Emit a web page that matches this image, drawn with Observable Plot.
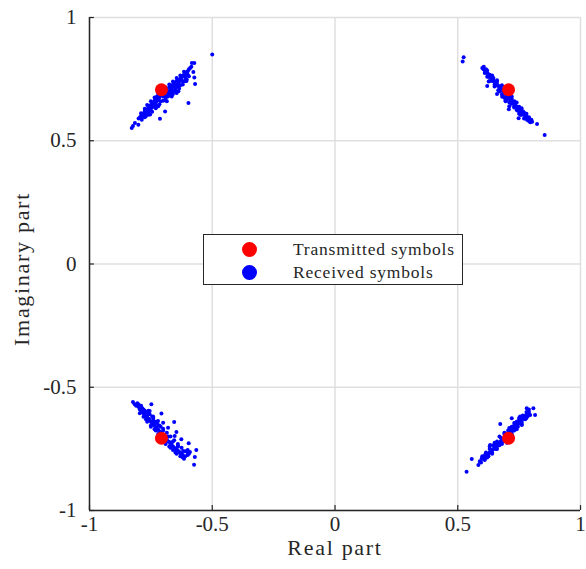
<!DOCTYPE html>
<html>
<head>
<meta charset="utf-8">
<script src="https://cdn.jsdelivr.net/npm/d3@7"></script>
<script src="https://cdn.jsdelivr.net/npm/@observablehq/plot@0.6"></script>
<style>
  html, body { margin: 0; padding: 0; background: #fff; }
  #wrap { position: relative; width: 586px; height: 569px; font-family: "Liberation Serif", serif; }
  #legend { position: absolute; left: 203px; top: 234px; width: 258px; height: 49px;
    border: 1.3px solid #262626; background: #fff; font-size: 17.5px; letter-spacing: 0.8px; color: #262626; }
  .row { position: absolute; left: 0; height: 22px; }
  .sw { position: absolute; left: 38px; top: 4px; width: 15px; height: 15px; border-radius: 50%; }
  .lt { position: absolute; left: 89px; top: 0; line-height: 22px; white-space: nowrap; }
</style>
</head>
<body>
<div id="wrap"></div>
<script>
const xTicks = [-1, -0.5, 0, 0.5, 1];
const yTicks = [-1, -0.5, 0, 0.5, 1];
const seriesNames = ["Transmitted symbols", "Received symbols"];
const seriesColors = ["#ff0000", "#0000ff"];

const txRe = [-0.707, 0.707, -0.707, 0.707];
const txIm = [0.707, 0.707, -0.707, -0.707];

const rxTopLeft = [
  [-0.50,0.85],[-0.573,0.815],[-0.583,0.815],[-0.577,0.779],[-0.573,0.757],[-0.604,0.748],[-0.570,0.730],
  [-0.638,0.701],[-0.597,0.653],[-0.692,0.619],[-0.713,0.589],[-0.794,0.595],[-0.801,0.565],[-0.828,0.552],
  [-0.823,0.560],[-0.720,0.640],[-0.774,0.613],[-0.753,0.606],[-0.815,0.572],[-0.787,0.585],[-0.760,0.619],
  [-0.685,0.660],[-0.665,0.680],[-0.645,0.694],[-0.638,0.721],[-0.611,0.741],
  [-0.80,0.59],[-0.79,0.60],[-0.785,0.607],[-0.78,0.61],[-0.775,0.62],[-0.77,0.615],[-0.765,0.628],
  [-0.76,0.63],[-0.755,0.64],[-0.75,0.645],[-0.748,0.635],[-0.745,0.655],[-0.74,0.65],[-0.735,0.662],
  [-0.73,0.67],[-0.728,0.66],[-0.725,0.68],[-0.72,0.675],[-0.715,0.69],[-0.71,0.685],[-0.705,0.695],
  [-0.70,0.70],[-0.695,0.69],[-0.69,0.705],[-0.685,0.71],[-0.68,0.70],[-0.675,0.718],[-0.67,0.722],
  [-0.665,0.715],[-0.66,0.728],[-0.655,0.735],[-0.65,0.73],[-0.645,0.742],[-0.64,0.745],[-0.635,0.738],
  [-0.63,0.752],[-0.625,0.758],[-0.62,0.762],[-0.615,0.768],[-0.61,0.77],[-0.605,0.778],[-0.60,0.782],
  [-0.595,0.79],[-0.59,0.795],[-0.585,0.80],[-0.72,0.665],[-0.74,0.638],[-0.76,0.617],[-0.70,0.68],
  [-0.68,0.69],[-0.66,0.705],[-0.64,0.725],[-0.62,0.74],[-0.65,0.715],[-0.69,0.67],[-0.73,0.645],
  [-0.67,0.70],[-0.71,0.66],[-0.75,0.625],[-0.78,0.598],[-0.77,0.60],[-0.63,0.725],[-0.61,0.745],
  [-0.775,0.595],[-0.76,0.605],[-0.745,0.618],[-0.73,0.632],[-0.715,0.648],[-0.70,0.662],[-0.69,0.678],
  [-0.675,0.69],[-0.66,0.69],[-0.65,0.705],[-0.635,0.712],[-0.62,0.728],[-0.605,0.742],[-0.595,0.762],
  [-0.60,0.768],[-0.61,0.758],[-0.625,0.745],[-0.64,0.732],[-0.655,0.72],[-0.67,0.708],[-0.685,0.695],
  [-0.70,0.688],[-0.715,0.675],[-0.73,0.655],[-0.745,0.64],[-0.76,0.64],[-0.775,0.63],[-0.79,0.612],
  [-0.735,0.675],[-0.72,0.69],[-0.705,0.705],[-0.69,0.715],[-0.675,0.728],[-0.66,0.74],[-0.645,0.755],
  [-0.63,0.765],[-0.615,0.78],[-0.75,0.66],[-0.765,0.645],[-0.68,0.68],[-0.665,0.695],[-0.65,0.70]
];

const rxTopRight = [
  [0.524,0.839],[0.520,0.821],[0.854,0.523],[0.823,0.568],[0.803,0.577],[0.783,0.584],[0.748,0.591],
  [0.708,0.628],[0.620,0.722],[0.626,0.740],[0.606,0.800],[0.613,0.787],[0.681,0.679],[0.694,0.665],
  [0.60,0.795],[0.605,0.79],[0.61,0.785],[0.615,0.778],[0.62,0.775],[0.625,0.77],[0.63,0.76],
  [0.635,0.758],[0.64,0.75],[0.645,0.745],[0.65,0.74],[0.655,0.735],[0.66,0.728],[0.665,0.722],
  [0.67,0.72],[0.675,0.712],[0.68,0.708],[0.685,0.70],[0.69,0.695],[0.695,0.69],[0.70,0.685],
  [0.705,0.678],[0.71,0.672],[0.715,0.668],[0.72,0.66],[0.725,0.655],[0.73,0.65],[0.735,0.645],
  [0.74,0.638],[0.745,0.632],[0.75,0.628],[0.755,0.62],[0.76,0.615],[0.765,0.61],[0.77,0.605],
  [0.775,0.598],[0.78,0.592],[0.785,0.588],[0.79,0.58],[0.66,0.745],[0.64,0.765],[0.68,0.725],
  [0.70,0.705],[0.72,0.68],[0.74,0.655],[0.76,0.632],[0.78,0.61],[0.69,0.675],[0.71,0.655],
  [0.73,0.635],[0.75,0.61],[0.67,0.70],[0.65,0.72],[0.63,0.742],[0.77,0.59],[0.62,0.76],
  [0.66,0.69],[0.71,0.64],[0.695,0.66],
  [0.61,0.775],[0.625,0.76],[0.64,0.742],[0.655,0.725],[0.67,0.71],[0.685,0.69],[0.70,0.675],
  [0.715,0.66],[0.73,0.64],[0.745,0.622],[0.76,0.605],[0.775,0.59],[0.79,0.595],[0.78,0.60],
  [0.765,0.62],[0.75,0.638],[0.735,0.655],[0.72,0.67],[0.705,0.688],[0.69,0.705],[0.675,0.72],
  [0.66,0.738],[0.645,0.755],[0.63,0.768],[0.615,0.79],[0.62,0.785],[0.72,0.65],[0.70,0.665],
  [0.68,0.688],[0.74,0.625],[0.755,0.605],[0.77,0.615],[0.79,0.59],[0.80,0.585],[0.795,0.575],
  [0.665,0.705],[0.65,0.728],[0.71,0.68],[0.73,0.66]
];

const rxBottomLeft = [
  [-0.823,-0.560],[-0.816,-0.569],[-0.782,-0.592],[-0.748,-0.569],[-0.755,-0.596],[-0.707,-0.606],
  [-0.741,-0.619],[-0.721,-0.637],[-0.700,-0.644],[-0.655,-0.641],[-0.680,-0.664],[-0.646,-0.682],
  [-0.653,-0.698],[-0.626,-0.711],[-0.596,-0.727],[-0.565,-0.755],[-0.591,-0.763],[-0.571,-0.783],
  [-0.574,-0.814],[-0.619,-0.759],[-0.639,-0.738],[-0.666,-0.725],
  [-0.81,-0.575],[-0.80,-0.58],[-0.795,-0.59],[-0.79,-0.595],[-0.785,-0.60],[-0.78,-0.605],[-0.775,-0.612],
  [-0.77,-0.618],[-0.765,-0.622],[-0.76,-0.628],[-0.755,-0.632],[-0.75,-0.64],[-0.745,-0.645],[-0.74,-0.65],
  [-0.735,-0.655],[-0.73,-0.662],[-0.725,-0.668],[-0.72,-0.672],[-0.715,-0.68],[-0.71,-0.685],[-0.705,-0.69],
  [-0.70,-0.698],[-0.695,-0.70],[-0.69,-0.708],[-0.685,-0.712],[-0.68,-0.72],[-0.675,-0.722],[-0.67,-0.73],
  [-0.665,-0.735],[-0.66,-0.74],[-0.655,-0.745],[-0.65,-0.75],[-0.645,-0.752],[-0.64,-0.758],[-0.635,-0.762],
  [-0.63,-0.768],[-0.625,-0.77],[-0.62,-0.775],[-0.61,-0.78],[-0.60,-0.765],[-0.78,-0.59],[-0.76,-0.61],
  [-0.74,-0.635],[-0.72,-0.655],[-0.70,-0.675],[-0.68,-0.70],[-0.66,-0.72],[-0.64,-0.74],[-0.77,-0.63],
  [-0.75,-0.655],[-0.73,-0.675],[-0.71,-0.695],[-0.69,-0.72],[-0.67,-0.745],[-0.65,-0.765],[-0.62,-0.785],
  [-0.60,-0.775],[-0.595,-0.77],
  [-0.80,-0.57],[-0.79,-0.58],[-0.775,-0.595],[-0.76,-0.605],[-0.745,-0.62],[-0.73,-0.64],[-0.715,-0.655],
  [-0.70,-0.668],[-0.685,-0.685],[-0.67,-0.70],[-0.655,-0.715],[-0.64,-0.73],[-0.625,-0.745],[-0.61,-0.76],
  [-0.60,-0.755],[-0.615,-0.79],[-0.63,-0.78],[-0.645,-0.77],[-0.66,-0.755],[-0.675,-0.74],[-0.69,-0.73],
  [-0.705,-0.705],[-0.72,-0.69],[-0.735,-0.67],[-0.75,-0.66],[-0.765,-0.64],[-0.78,-0.62],[-0.795,-0.605],
  [-0.785,-0.585],[-0.77,-0.60],[-0.755,-0.61],[-0.74,-0.625],[-0.725,-0.645],[-0.71,-0.66],[-0.79,-0.575],
  [-0.805,-0.565],[-0.76,-0.595]
];

const rxBottomRight = [
  [0.536,-0.843],[0.557,-0.791],[0.584,-0.815],[0.591,-0.802],[0.598,-0.788],[0.611,-0.775],[0.632,-0.734],
  [0.673,-0.649],[0.706,-0.687],[0.720,-0.626],[0.754,-0.619],[0.781,-0.585],[0.808,-0.585],[0.795,-0.613],
  [0.815,-0.613],[0.761,-0.653],[0.740,-0.640],
  [0.59,-0.80],[0.60,-0.79],[0.605,-0.79],[0.61,-0.785],[0.615,-0.775],[0.62,-0.772],[0.625,-0.77],
  [0.63,-0.765],[0.635,-0.758],[0.64,-0.755],[0.645,-0.75],[0.65,-0.745],[0.655,-0.74],[0.66,-0.735],
  [0.665,-0.73],[0.67,-0.725],[0.675,-0.72],[0.68,-0.715],[0.685,-0.712],[0.69,-0.705],[0.695,-0.70],
  [0.70,-0.695],[0.705,-0.69],[0.71,-0.685],[0.715,-0.68],[0.72,-0.675],[0.725,-0.67],[0.73,-0.665],
  [0.735,-0.66],[0.74,-0.655],[0.745,-0.65],[0.75,-0.645],[0.755,-0.638],[0.76,-0.635],[0.765,-0.628],
  [0.77,-0.622],[0.775,-0.618],[0.78,-0.61],[0.785,-0.605],[0.79,-0.60],[0.64,-0.77],[0.66,-0.75],
  [0.68,-0.73],[0.70,-0.71],[0.72,-0.69],[0.74,-0.67],[0.76,-0.65],[0.78,-0.625],[0.67,-0.70],
  [0.69,-0.685],[0.71,-0.665],[0.73,-0.645],[0.75,-0.625],[0.65,-0.725],[0.63,-0.74],[0.62,-0.785],
  [0.61,-0.795],[0.70,-0.725],
  [0.60,-0.78],[0.615,-0.765],[0.63,-0.75],[0.645,-0.735],[0.66,-0.72],[0.675,-0.705],[0.69,-0.69],
  [0.705,-0.675],[0.72,-0.66],[0.735,-0.645],[0.75,-0.632],[0.765,-0.615],[0.78,-0.60],[0.79,-0.59],
  [0.775,-0.63],[0.76,-0.645],[0.745,-0.66],[0.73,-0.675],[0.715,-0.69],[0.70,-0.705],[0.685,-0.72],
  [0.67,-0.735],[0.655,-0.75],[0.64,-0.765],[0.625,-0.78],[0.61,-0.79],[0.595,-0.805],[0.66,-0.74],
  [0.68,-0.722],[0.72,-0.68],[0.74,-0.662],[0.76,-0.64],[0.785,-0.618],[0.655,-0.73],[0.69,-0.71],
  [0.73,-0.655],[0.75,-0.64]
];

const received = [...rxTopLeft, ...rxTopRight, ...rxBottomLeft, ...rxBottomRight].map(([re, im]) => ({re, im}));
const transmitted = txRe.map((re, i) => ({re, im: txIm[i]}));

const axisColor = "#262626";
const gridColor = "#dfdfdf";
const fmt = d => String(d);

const chart = Plot.plot({
  width: 586,
  height: 569,
  marginLeft: 89,
  marginRight: 6,
  marginTop: 17,
  marginBottom: 59,
  style: { fontFamily: "Liberation Serif, serif", background: "#fff", color: axisColor },
  x: { domain: [-1, 1] },
  y: { domain: [-1, 1] },
  marks: [
    Plot.gridX(xTicks, { stroke: gridColor, strokeOpacity: 1, strokeWidth: 1.5 }),
    Plot.gridY(yTicks, { stroke: gridColor, strokeOpacity: 1, strokeWidth: 1.5 }),
    Plot.ruleX(xTicks, { x: d => d, y1: -1, y2: -0.98, stroke: axisColor, strokeWidth: 1.2 }),
    Plot.ruleY(yTicks, { y: d => d, x1: -1, x2: -0.98, stroke: axisColor, strokeWidth: 1.2 }),
    Plot.ruleX([-1], { stroke: axisColor, strokeWidth: 1.5 }),
    Plot.ruleY([-1], { stroke: axisColor, strokeWidth: 1.5 }),
    Plot.axisX(xTicks, { tickSize: 0, tickPadding: 6, tickFormat: fmt, fontSize: 21, fill: axisColor, label: null }),
    Plot.axisY(yTicks, { tickSize: 0, tickPadding: 13, tickFormat: fmt, fontSize: 21, fill: axisColor, label: null }),
    Plot.text(["Real part"], { frameAnchor: "bottom", textAnchor: "middle", dy: 44, fontSize: 22, fill: axisColor, className: "axis-title" }),
    Plot.text(["Imaginary part"], { frameAnchor: "left", textAnchor: "middle", dx: -68, dy: 5, rotate: -90, fontSize: 22, fill: axisColor, className: "axis-title" }),
    Plot.dot(received, { x: "re", y: "im", r: 2, fill: seriesColors[1], stroke: "none" }),
    Plot.dot(transmitted, { x: "re", y: "im", r: 6.5, fill: seriesColors[0], stroke: "none" })
  ]
});

d3.select(chart).selectAll(".axis-title text").style("letter-spacing", "1.7px");

const wrap = document.getElementById("wrap");
wrap.appendChild(chart);

const legend = document.createElement("div");
legend.id = "legend";
seriesNames.forEach((name, i) => {
  const row = document.createElement("div");
  row.className = "row";
  row.style.top = (3 + i * 22.5) + "px";
  row.style.width = "100%";
  const sw = document.createElement("span");
  sw.className = "sw";
  sw.style.background = seriesColors[i];
  const t = document.createElement("span");
  t.className = "lt";
  t.textContent = name;
  row.appendChild(sw);
  row.appendChild(t);
  legend.appendChild(row);
});
wrap.appendChild(legend);
</script>
</body>
</html>
